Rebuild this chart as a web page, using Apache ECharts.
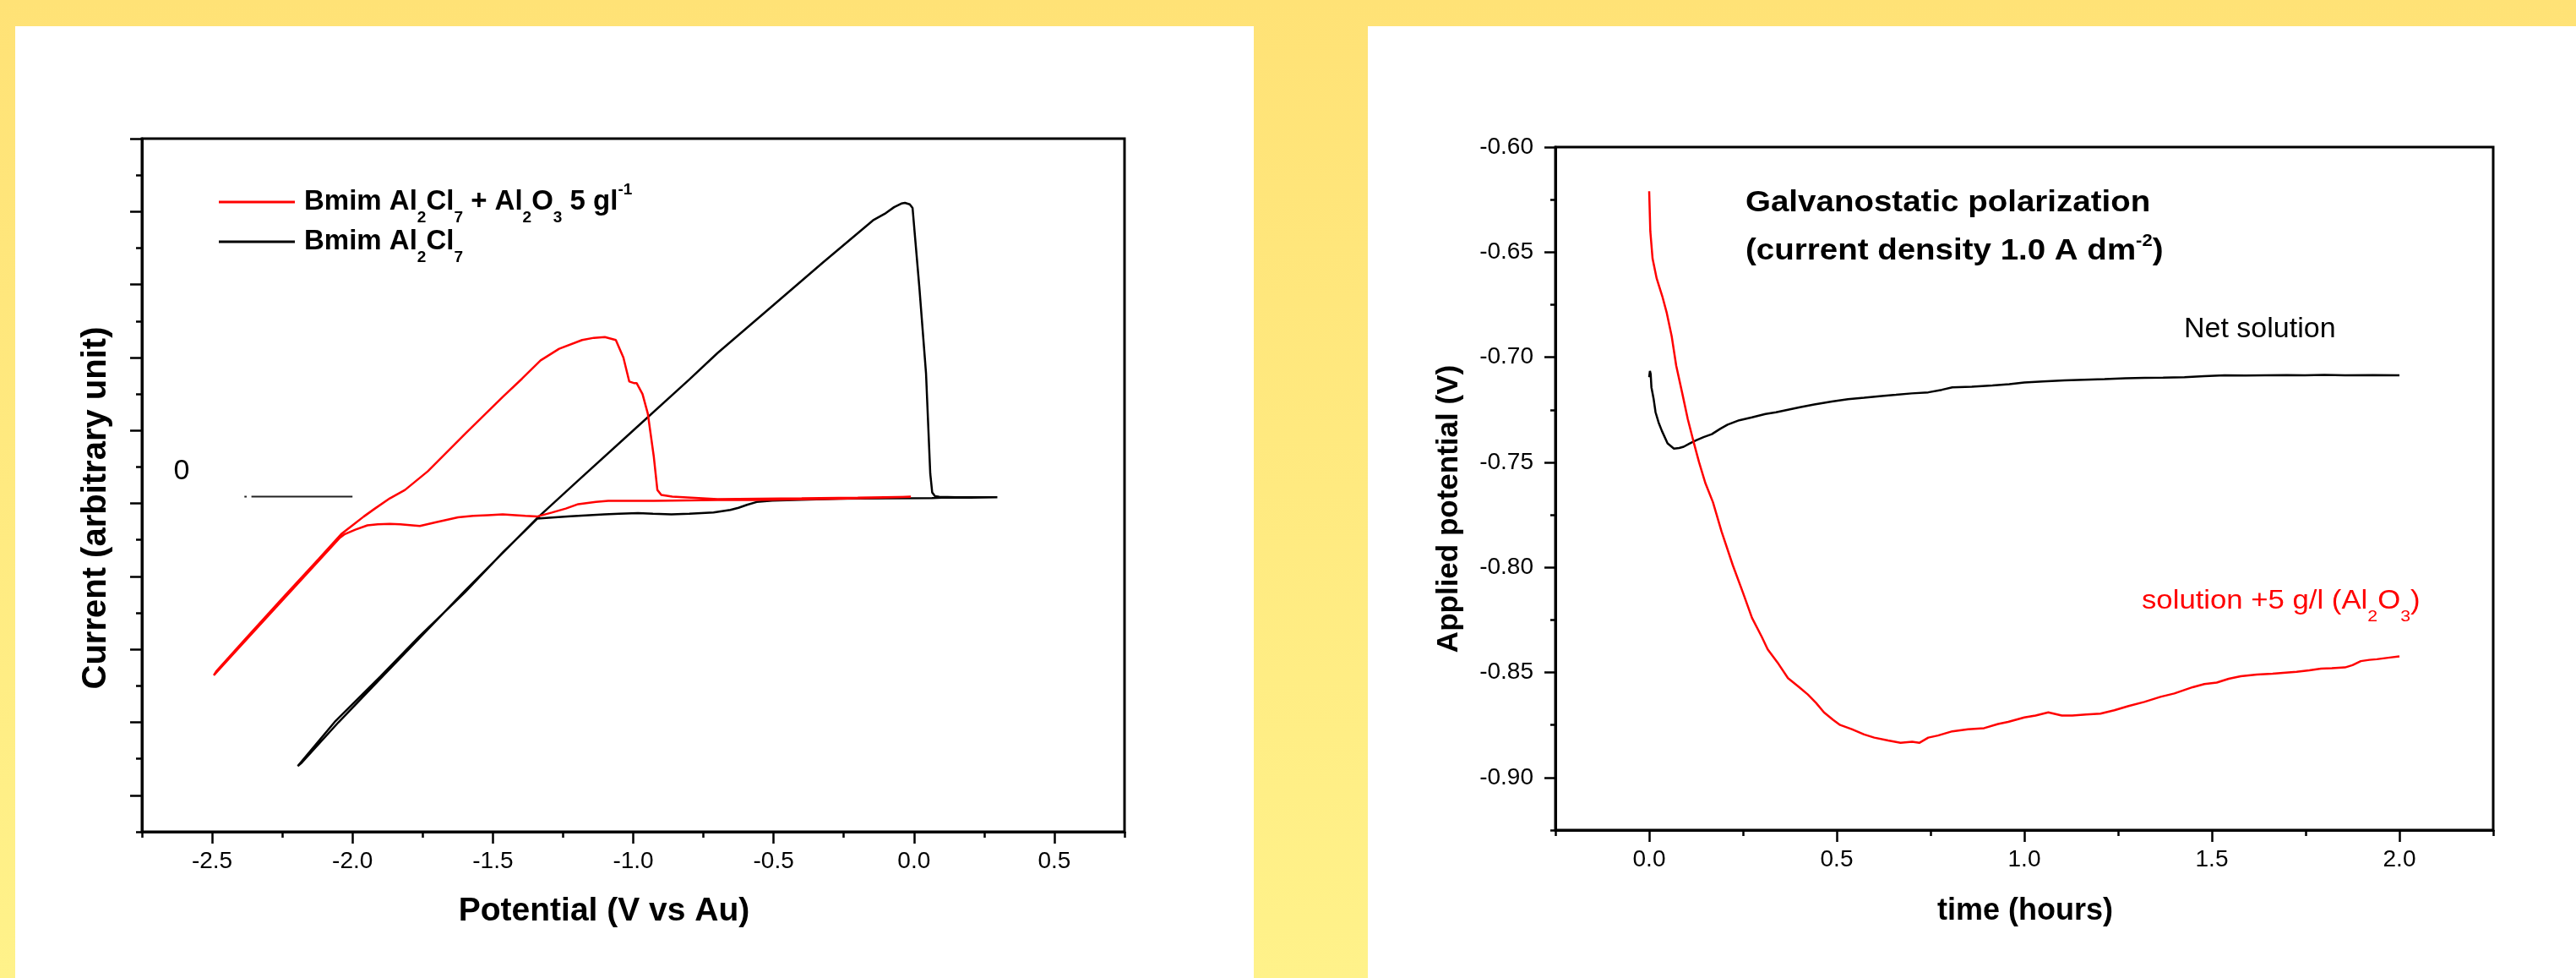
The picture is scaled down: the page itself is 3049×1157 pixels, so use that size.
<!DOCTYPE html>
<html><head><meta charset="utf-8">
<script src="https://cdn.jsdelivr.net/npm/echarts@6/dist/echarts.min.js"></script>
<style>html,body{margin:0;padding:0;width:3049px;height:1157px;overflow:hidden;background:#FFE97E}#c{width:3049px;height:1157px}</style>
</head><body><div id="c"></div>
<script>
// ---------- Left panel: cyclic voltammograms ----------
const cvBlackV = [0.297,0.20,0.10,0.064,-0.10,-0.266,-0.40,-0.505,-0.56,-0.595,-0.625,-0.654,-0.714,-0.80,-0.864,-0.93,-0.983,-1.05,-1.103,-1.223,-1.30,-1.342,
  -1.40,-1.462,-1.60,-1.761,-1.90,-2.06,-2.195,
  -2.18,-2.05,-1.90,-1.75,-1.60,-1.45,-1.342,-1.20,-1.00,-0.80,-0.70,-0.50,-0.325,-0.146,-0.10,-0.071,-0.045,-0.032,-0.015,-0.005,
  0.005,0.019,0.043,0.058,0.065,0.075,0.09,0.15,0.297];
const cvBlackI = [0.085,0.08,0.078,0.074,0.07,0.065,0.05,0.039,0.02,-0.02,-0.06,-0.089,-0.123,-0.14,-0.149,-0.14,-0.132,-0.14,-0.149,-0.175,-0.195,-0.209,
  -0.43,-0.66,-1.22,-1.82,-2.37,-2.98,-3.60,
  -3.55,-3.0,-2.40,-1.80,-1.20,-0.62,-0.20,0.30,1.00,1.70,2.06,2.72,3.30,3.88,3.98,4.06,4.11,4.12,4.10,4.05,
  3.6,2.97,1.78,0.41,0.15,0.10,0.09,0.085,0.085];

const cvRedV = [-0.011,-0.266,-0.565,-0.70,-0.864,-0.927,-0.983,-1.089,-1.133,-1.196,-1.24,-1.29,-1.343,-1.384,-1.42,-1.465,-1.517,-1.57,-1.624,-1.705,-1.76,-1.787,-1.83,-1.867,-1.91,-1.947,-1.99,-2.027,-2.045,
  -2.15,-2.30,-2.40,-2.494,
  -2.485,-2.38,-2.25,-2.12,-2.04,-2.0,-1.96,-1.92,-1.867,-1.813,-1.732,-1.597,-1.465,-1.396,-1.33,-1.264,-1.182,-1.14,-1.101,-1.062,-1.035,-1.014,-0.998,-0.988,-0.967,-0.948,-0.927,-0.914,-0.90,-0.861,-0.70,-0.40,-0.20,-0.011];
const cvRedI = [0.092,0.065,0.048,0.046,0.039,0.035,0.035,0.035,0.02,-0.01,-0.07,-0.125,-0.18,-0.17,-0.16,-0.15,-0.16,-0.17,-0.19,-0.26,-0.31,-0.30,-0.285,-0.28,-0.285,-0.30,-0.36,-0.42,-0.47,
  -0.91,-1.54,-1.96,-2.355,
  -2.30,-1.85,-1.30,-0.76,-0.42,-0.30,-0.18,-0.07,0.07,0.185,0.44,0.96,1.46,1.71,1.96,2.12,2.24,2.27,2.28,2.24,2.0,1.67,1.65,1.65,1.5,1.23,0.65,0.185,0.116,0.093,0.06,0.07,0.08,0.092];

const zeroMarkV = [-2.36,-2.0];
const zeroMarkI = [0.093,0.093];
const zeroDotV = [-2.385,-2.377];
const zeroDotI = [0.093,0.093];

const cvTicksV = [-2.5,-2.0,-1.5,-1.0,-0.5,0.0,0.5];
const cvTicksI = [-4,-3,-2,-1,0,1,2,3,4,5];

// ---------- Right panel: galvanostatic polarization ----------
const timeRed = [0,0.003,0.009,0.02,0.035,0.047,0.06,0.072,0.088,0.103,0.118,0.133,0.15,0.17,0.193,0.223,0.25,0.274,0.30,0.316,0.345,0.37,0.40,0.423,0.445,0.466,0.49,0.509,0.54,0.573,0.60,0.637,0.67,0.701,0.72,0.744,0.77,0.808,0.85,0.893,0.93,0.957,1.0,1.03,1.064,1.10,1.128,1.165,1.203,1.24,1.278,1.32,1.363,1.40,1.449,1.48,1.513,1.545,1.577,1.62,1.662,1.69,1.726,1.76,1.791,1.82,1.855,1.875,1.897,1.92,1.94,1.97,2.0];
const potRed = [-0.621,-0.640,-0.653,-0.6625,-0.671,-0.679,-0.690,-0.704,-0.717,-0.7295,-0.740,-0.750,-0.760,-0.769,-0.783,-0.799,-0.812,-0.824,-0.833,-0.839,-0.846,-0.8527,-0.857,-0.8605,-0.8645,-0.869,-0.8725,-0.875,-0.877,-0.8795,-0.881,-0.8824,-0.8835,-0.883,-0.8835,-0.881,-0.880,-0.878,-0.877,-0.8765,-0.8745,-0.8735,-0.8714,-0.8705,-0.869,-0.8705,-0.8705,-0.870,-0.8696,-0.868,-0.866,-0.864,-0.8616,-0.860,-0.857,-0.8555,-0.8548,-0.853,-0.8518,-0.851,-0.8506,-0.8502,-0.8497,-0.849,-0.8482,-0.848,-0.8476,-0.8465,-0.8446,-0.844,-0.8437,-0.843,-0.8423];

const timeBlack = [0,0.002,0.004,0.006,0.012,0.017,0.025,0.034,0.049,0.066,0.08,0.092,0.108,0.124,0.145,0.167,0.19,0.209,0.24,0.274,0.31,0.338,0.37,0.402,0.44,0.487,0.53,0.573,0.62,0.658,0.70,0.744,0.78,0.808,0.86,0.915,0.96,1.0,1.05,1.107,1.16,1.214,1.27,1.321,1.37,1.427,1.48,1.534,1.59,1.641,1.70,1.748,1.80,1.855,1.93,2.0];
const potBlack = [-0.7095,-0.7065,-0.708,-0.7143,-0.720,-0.7262,-0.731,-0.7351,-0.741,-0.7435,-0.7432,-0.7426,-0.741,-0.7396,-0.738,-0.7366,-0.734,-0.7321,-0.730,-0.7286,-0.727,-0.7262,-0.725,-0.7238,-0.7225,-0.7211,-0.720,-0.7193,-0.7185,-0.7179,-0.7172,-0.7167,-0.7155,-0.7143,-0.714,-0.7134,-0.7128,-0.712,-0.7115,-0.711,-0.7107,-0.7104,-0.710,-0.7098,-0.7097,-0.7095,-0.709,-0.7086,-0.7087,-0.7086,-0.7085,-0.7086,-0.7084,-0.7086,-0.7085,-0.7086];

const timeTicks = [0,0.5,1.0,1.5,2.0];
const potTicks = [-0.90,-0.85,-0.80,-0.75,-0.70,-0.65,-0.60];

// ---------- build ----------
const FONT = '"Liberation Sans", Arial, Helvetica, sans-serif';
const pairs = (xs, ys) => xs.map((x, i) => [x, ys[i]]);
const BLACK = '#000';

function minorAxis(grid, pos, min, max, interval, len) {
  return {gridIndex: grid, type: 'value', position: pos, min: min, max: max, interval: interval,
    axisLine: {show: true, onZero: false, lineStyle: {color: BLACK, width: 3}},
    axisTick: {show: true, inside: false, length: len, lineStyle: {color: BLACK, width: 2.5}},
    axisLabel: {show: false}, splitLine: {show: false}};
}
function majorAxis(grid, pos, min, max, interval, len, ticks, labels, margin, fmt) {
  return {gridIndex: grid, type: 'value', position: pos, min: min, max: max, interval: interval,
    axisLine: {show: false, onZero: false},
    axisTick: {show: true, inside: false, length: len, customValues: ticks, lineStyle: {color: BLACK, width: 2.5}},
    axisLabel: {show: labels, customValues: ticks, margin: margin, fontSize: 28, color: BLACK, fontFamily: FONT, formatter: fmt},
    splitLine: {show: false}};
}

const lineSeries = (name, xi, yi, data, color, width) => ({
  name: name, type: 'line', xAxisIndex: xi, yAxisIndex: yi, data: data,
  showSymbol: false, symbol: 'none', smooth: false, clip: true, animation: false,
  lineStyle: {color: color, width: width}, itemStyle: {color: color}
});

const richBase = (size, weight, color, lh) => ({fontSize: size, fontWeight: weight, fontFamily: FONT, fill: color, lineHeight: lh});

const option = {
  animation: false,
  grid: [
    {left: 168, top: 164, width: 1163, height: 820, show: true, borderColor: BLACK, borderWidth: 3, backgroundColor: 'transparent'},
    {left: 1841, top: 174, width: 1110, height: 808, show: true, borderColor: BLACK, borderWidth: 3, backgroundColor: 'transparent'}
  ],
  xAxis: [
    minorAxis(0, 'bottom', -2.75, 0.75, 0.25, 7),
    majorAxis(0, 'bottom', -2.75, 0.75, 0.25, 14, cvTicksV, true, 21, v => v.toFixed(1)),
    minorAxis(1, 'bottom', -0.25, 2.25, 0.25, 7),
    majorAxis(1, 'bottom', -0.25, 2.25, 0.25, 14, timeTicks, true, 21, v => v.toFixed(1))
  ],
  yAxis: [
    minorAxis(0, 'left', -4.5, 5, 0.5, 7),
    majorAxis(0, 'left', -4.5, 5, 0.5, 14, cvTicksI, false, 20, v => ''),
    minorAxis(1, 'left', -0.925, -0.6, 0.025, 6),
    majorAxis(1, 'left', -0.925, -0.6, 0.025, 13, potTicks, true, 26, v => v.toFixed(2))
  ],
  series: [
    lineSeries('Bmim Al2Cl7', 0, 0, pairs(cvBlackV, cvBlackI), '#000000', 2.5),
    lineSeries('Bmim Al2Cl7 + Al2O3 5 gl-1', 0, 0, pairs(cvRedV, cvRedI), '#ff0000', 2.5),
    lineSeries('zero', 0, 0, pairs(zeroMarkV, zeroMarkI), '#222222', 2),
    lineSeries('zero-dot', 0, 0, pairs(zeroDotV, zeroDotI), '#222222', 2),
    lineSeries('Net solution', 2, 2, pairs(timeBlack, potBlack), '#000000', 2.5),
    lineSeries('solution +5 g/l (Al2O3)', 2, 2, pairs(timeRed, potRed), '#ff0000', 2.5)
  ],
  graphic: {elements: [
    {type: 'rect', z: -20, silent: true, shape: {x: 0, y: 0, width: 3049, height: 1157},
      style: {fill: new echarts.graphic.LinearGradient(0, 0, 0, 1, [{offset: 0, color: '#FFE276'}, {offset: 1, color: '#FFF28A'}])}},
    {type: 'rect', z: -10, silent: true, shape: {x: 18, y: 31, width: 1466, height: 1126}, style: {fill: '#ffffff'}},
    {type: 'rect', z: -10, silent: true, shape: {x: 1619, y: 31, width: 1430, height: 1126}, style: {fill: '#ffffff'}},
    // left legend
    {type: 'line', z: 10, shape: {x1: 259, y1: 239, x2: 349, y2: 239}, style: {stroke: '#ff0000', lineWidth: 3}},
    {type: 'line', z: 10, shape: {x1: 259, y1: 286, x2: 349, y2: 286}, style: {stroke: '#000000', lineWidth: 3}},
    {type: 'text', z: 10, x: 360, y: 239, style: {
      text: '{m|Bmim Al}{d|2}{m|Cl}{d|7}{m| + Al}{d|2}{m|O}{d|3}{m| 5 gl}{u|-1}',
      align: 'left', verticalAlign: 'middle', textAlign: 'left', textVerticalAlign: 'middle',
      rich: {m: richBase(33, 'bold', BLACK, 44),
             d: {fontSize: 19, fontWeight: 'bold', fontFamily: FONT, fill: BLACK, height: 6, verticalAlign: 'bottom'},
             u: {fontSize: 19, fontWeight: 'bold', fontFamily: FONT, fill: BLACK, height: 16, verticalAlign: 'top'}}}},
    {type: 'text', z: 10, x: 360, y: 286, style: {
      text: '{m|Bmim Al}{d|2}{m|Cl}{d|7}',
      align: 'left', verticalAlign: 'middle', textAlign: 'left', textVerticalAlign: 'middle',
      rich: {m: richBase(33, 'bold', BLACK, 44),
             d: {fontSize: 19, fontWeight: 'bold', fontFamily: FONT, fill: BLACK, height: 6, verticalAlign: 'bottom'}}}},
    {type: 'text', z: 10, x: 215, y: 558, style: {text: '0', fontSize: 34, fontFamily: FONT, fill: BLACK,
      align: 'center', verticalAlign: 'middle', textAlign: 'center', textVerticalAlign: 'middle'}},
    // left axis titles
    {type: 'text', z: 10, x: 715, y: 1078, style: {text: 'Potential (V vs Au)', fontSize: 39, fontWeight: 'bold', fontFamily: FONT, fill: BLACK,
      align: 'center', verticalAlign: 'middle', textAlign: 'center', textVerticalAlign: 'middle'}},
    {type: 'text', z: 10, x: 114, y: 601, rotation: Math.PI / 2, style: {text: 'Current (arbitrary unit)', fontSize: 40, fontWeight: 'bold', fontFamily: FONT, fill: BLACK,
      align: 'center', verticalAlign: 'middle', textAlign: 'center', textVerticalAlign: 'middle'}},
    // right panel texts
    {type: 'text', z: 10, x: 2066, y: 240, scaleX: 1.1, style: {text: 'Galvanostatic polarization', fontSize: 35, fontWeight: 'bold', fontFamily: FONT, fill: BLACK,
      align: 'left', verticalAlign: 'middle', textAlign: 'left', textVerticalAlign: 'middle'}},
    {type: 'text', z: 10, x: 2066, y: 297, scaleX: 1.1, style: {
      text: '{m|(current density 1.0 A dm}{u|-2}{m|)}',
      align: 'left', verticalAlign: 'middle', textAlign: 'left', textVerticalAlign: 'middle',
      rich: {m: richBase(35, 'bold', BLACK, 44),
             u: {fontSize: 20, fontWeight: 'bold', fontFamily: FONT, fill: BLACK, height: 20, verticalAlign: 'top'}}}},
    {type: 'text', z: 10, x: 2585, y: 390, style: {text: 'Net solution', fontSize: 34, fontFamily: FONT, fill: BLACK,
      align: 'left', verticalAlign: 'middle', textAlign: 'left', textVerticalAlign: 'middle'}},
    {type: 'text', z: 10, x: 2535, y: 711, scaleX: 1.12, style: {
      text: '{m|solution +5 g/l (Al}{d|2}{m|O}{d|3}{m|)}',
      align: 'left', verticalAlign: 'middle', textAlign: 'left', textVerticalAlign: 'middle',
      rich: {m: richBase(31, 'normal', '#ff0000', 44),
             d: {fontSize: 19, fontFamily: FONT, fill: '#ff0000', height: 6, verticalAlign: 'bottom'}}}},
    {type: 'text', z: 10, x: 2397, y: 1078, style: {text: 'time (hours)', fontSize: 36, fontWeight: 'bold', fontFamily: FONT, fill: BLACK,
      align: 'center', verticalAlign: 'middle', textAlign: 'center', textVerticalAlign: 'middle'}},
    {type: 'text', z: 10, x: 1715, y: 602, rotation: Math.PI / 2, style: {text: 'Applied potential (V)', fontSize: 35, fontWeight: 'bold', fontFamily: FONT, fill: BLACK,
      align: 'center', verticalAlign: 'middle', textAlign: 'center', textVerticalAlign: 'middle'}}
  ]}
};

const chart = echarts.init(document.getElementById('c'), null, {renderer: 'canvas', width: 3049, height: 1157});
chart.setOption(option);
</script></body></html>
